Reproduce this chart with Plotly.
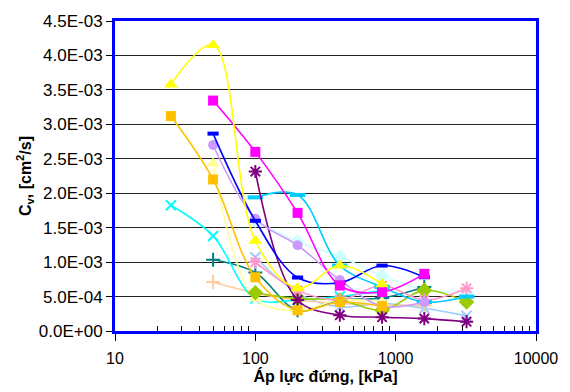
import plotly.graph_objects as go

pressure = [25, 50, 100, 200, 400, 800, 1600, 3200]

cv_yellow_tri = [3.58e-3, 4.15e-3, 1.31e-3, 0.62e-3, 0.95e-3, 0.68e-3, None, None]
cv_orange_sq = [3.12e-3, 2.20e-3, 0.78e-3, 0.30e-3, 0.42e-3, 0.36e-3, None, None]
cv_magenta_sq = [None, 3.345e-3, 2.60e-3, 1.715e-3, 0.66e-3, 0.565e-3, 0.83e-3, None]
cv_blue_dash = [None, 2.865e-3, 1.60e-3, 0.776e-3, 0.70e-3, 0.95e-3, 0.78e-3, None]
cv_lavender_circ = [None, 2.70e-3, 1.63e-3, 1.245e-3, 0.74e-3, 0.36e-3, 0.42e-3, None]
cv_lightyellow_tri = [None, 2.43e-3, 0.47e-3, 0.30e-3, 0.45e-3, 0.42e-3, None, None]
cv_purple_star = [None, None, 2.315e-3, 0.45e-3, 0.23e-3, 0.20e-3, 0.18e-3, 0.135e-3]
cv_cyan_dash = [None, None, 1.94e-3, 1.975e-3, 0.95e-3, 0.64e-3, 0.42e-3, 0.50e-3]
cv_cyan_x = [1.826e-3, 1.38e-3, 0.47e-3, 0.45e-3, 0.50e-3, 0.59e-3, None, None]
cv_teal_plus = [None, 1.035e-3, 0.85e-3, 0.30e-3, 0.45e-3, 0.48e-3, 0.64e-3, None]
cv_peach_plus = [None, 0.71e-3, 0.55e-3, 0.45e-3, 0.40e-3, 0.38e-3, 0.37e-3, None]
cv_green_diam = [None, None, 0.556e-3, 0.47e-3, 0.45e-3, 0.30e-3, 0.59e-3, 0.42e-3]
cv_lightblue_x = [None, None, 1.07e-3, 0.55e-3, 0.35e-3, 0.40e-3, 0.33e-3, 0.22e-3]
cv_pink_star = [None, None, 1.00e-3, 0.59e-3, 0.45e-3, 0.66e-3, 0.45e-3, 0.62e-3]
cv_lightcyan_diam = [None, None, 1.60e-3, 1.30e-3, 1.08e-3, 0.80e-3, 0.60e-3, 0.56e-3]

y_tick_vals = [0, 5e-4, 1e-3, 1.5e-3, 2e-3, 2.5e-3, 3e-3, 3.5e-3, 4e-3, 4.5e-3]
y_tick_text = ["0.0E+00", "5.0E-04", "1.0E-03", "1.5E-03", "2.0E-03",
               "2.5E-03", "3.0E-03", "3.5E-03", "4.0E-03", "4.5E-03"]
x_tick_vals = [10, 100, 1000, 10000]
x_tick_text = ["10", "100", "1000", "10000"]
x_minor_vals = [m * d for d in (10, 100, 1000) for m in range(2, 10)]

# (values, color, symbol, size, open, marker line width)
series = [
    (cv_lightcyan_diam, "#CCFFFF", "diamond", 11, False, 0),
    (cv_lightblue_x, "#99CCFF", "x-thin-open", 10, True, 2),
    (cv_peach_plus, "#FFCC99", "cross-thin-open", 10, True, 2),
    (cv_teal_plus, "#008080", "cross-thin-open", 10, True, 2),
    (cv_cyan_x, "#00FFFF", "x-thin-open", 10, True, 2),
    (cv_lightyellow_tri, "#FFFF99", "triangle-up", 12, False, 0),
    (cv_green_diam, "#99CC00", "diamond", 12, False, 0),
    (cv_pink_star, "#FF99CC", "asterisk-open", 11, True, 2),
    (cv_cyan_dash, "#00CCFF", "line-ew-open", 11, True, 4),
    (cv_purple_star, "#800080", "asterisk-open", 11, True, 2),
    (cv_lavender_circ, "#CC99FF", "circle", 10, False, 0),
    (cv_blue_dash, "#0000FF", "line-ew-open", 8, True, 4),
    (cv_magenta_sq, "#FF00FF", "square", 10, False, 0),
    (cv_orange_sq, "#FFC000", "square", 10, False, 0),
    (cv_yellow_tri, "#FFFF00", "triangle-up", 12, False, 0),
]

fig = go.Figure()
for vals, color, symbol, size, is_open, mlw in series:
    if is_open:
        marker = dict(symbol=symbol, size=size, color=color,
                      line=dict(color=color, width=mlw))
    else:
        marker = dict(symbol=symbol, size=size, color=color, line=dict(width=0))
    fig.add_trace(go.Scatter(
        x=pressure, y=vals, mode="lines+markers",
        line=dict(color=color, width=1.6, shape="spline", smoothing=1.0),
        marker=marker, showlegend=False, hoverinfo="skip",
    ))

font_family = "Liberation Sans, Arial, sans-serif"

fig.update_layout(
    width=570, height=392,
    margin=dict(l=115, r=33, t=18, b=61),
    paper_bgcolor="white", plot_bgcolor="white",
    font=dict(family=font_family, size=16, color="black"),
    xaxis=dict(
        type="log", range=[1, 4],
        tickmode="array", tickvals=x_tick_vals, ticktext=x_tick_text,
        ticks="outside", ticklen=7, tickcolor="black", tickwidth=1,
        ticklabelstandoff=4,
        showline=True, linecolor="#0000FF", linewidth=3, mirror=True,
        showgrid=False, zeroline=False,
        minor=dict(tickmode="array", tickvals=x_minor_vals, ticks="inside",
                   ticklen=5, tickcolor="black", showgrid=False),
        title=dict(text="<b>Áp lực đứng, [kPa]</b>", standoff=0,
                   font=dict(size=16)),
        tickfont=dict(size=16),
    ),
    yaxis=dict(
        range=[0, 4.5e-3],
        tickmode="array", tickvals=y_tick_vals, ticktext=y_tick_text,
        ticks="outside", ticklen=6, tickcolor="black", tickwidth=1,
        showline=True, linecolor="#0000FF", linewidth=3, mirror=True,
        showgrid=True, gridcolor="#222222", gridwidth=1,
        zeroline=False,
        title=dict(text="<b>C<sub>v</sub>, [cm<sup>2</sup>/s]</b>", standoff=4,
                   font=dict(size=16)),
        tickfont=dict(size=17),
    ),
)

fig.write_html("out.html")
